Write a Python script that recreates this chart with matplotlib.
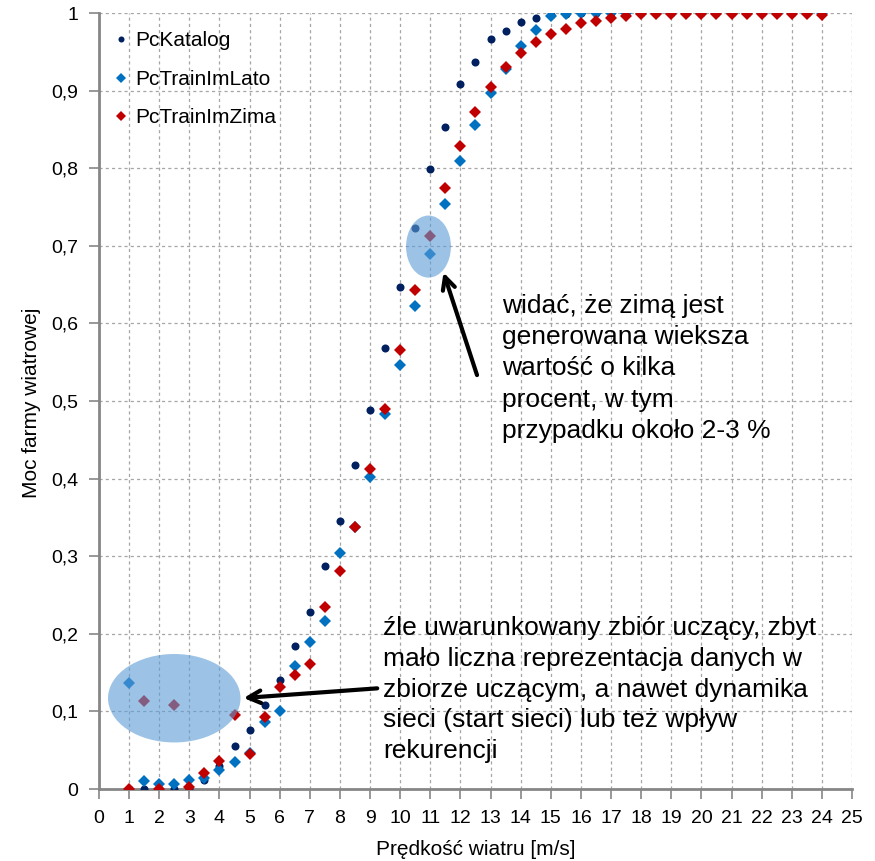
import numpy as np
import matplotlib
matplotlib.use("Agg")
import matplotlib.pyplot as plt
from matplotlib.patches import Ellipse
from matplotlib import font_manager

plt.rcParams['font.family'] = ['Liberation Sans', 'DejaVu Sans']

# wind speed [m/s]
speed = [1, 1.5, 2, 2.5, 3, 3.5, 4, 4.5, 5, 5.5, 6, 6.5, 7, 7.5, 8, 8.5, 9, 9.5,
         10, 10.5, 11, 11.5, 12, 12.5, 13, 13.5, 14, 14.5, 15, 15.5, 16, 16.5,
         17, 17.5, 18, 18.5, 19, 19.5, 20, 20.5, 21, 21.5, 22, 22.5, 23, 23.5, 24]

pc_katalog = [0, 0, 0, 0, 0, 0.012, 0.03, 0.055, 0.076, 0.108, 0.14, 0.184,
              0.228, 0.287, 0.345, 0.417, 0.489, 0.568, 0.647, 0.723, 0.799,
              0.853, 0.908, 0.937, 0.966, 0.977, 0.989, 0.993, 0.997, 0.999,
              1, 1, 1, 1, 1, 1, 1, 1, 1, 1, 1, 1, 1, 1, 1, 1, 1]

pc_lato = [0.137, 0.010, 0.006, 0.007, 0.012, 0.014, 0.024, 0.035, 0.047,
           0.086, 0.100, 0.159, 0.190, 0.217, 0.304, 0.338, 0.402, 0.483,
           0.547, 0.622, 0.690, 0.754, 0.809, 0.856, 0.897, 0.928, 0.957,
           0.978, 0.996, 0.999, 1, 1, 1, 1, 1, 1, 1, 1, 1, 1, 1, 1, 1, 1, 1,
           1, 1]

pc_zima = [0, 0.113, 0, 0.108, 0.002, 0.021, 0.036, 0.096, 0.045, 0.093,
           0.131, 0.147, 0.161, 0.235, 0.281, 0.338, 0.412, 0.490, 0.566,
           0.643, 0.713, 0.775, 0.829, 0.872, 0.904, 0.930, 0.949, 0.963,
           0.973, 0.980, 0.987, 0.990, 0.993, 0.9965, 0.999, 0.999, 0.999,
           0.999, 0.999, 0.999, 0.999, 0.999, 0.999, 0.999, 0.999, 0.999,
           0.998]

x_ticks = list(range(0, 26))
y_ticks = [0, 0.1, 0.2, 0.3, 0.4, 0.5, 0.6, 0.7, 0.8, 0.9, 1.0]
y_ticklabels = ["0", "0,1", "0,2", "0,3", "0,4", "0,5", "0,6", "0,7", "0,8", "0,9", "1"]

available = {f.name for f in font_manager.fontManager.ttflist}
narrow = 'Liberation Sans Narrow' if 'Liberation Sans Narrow' in available else 'Liberation Sans'

fig = plt.figure(figsize=(8.75, 8.61), dpi=100)
ax = fig.add_axes([0.1131, 0.0836, 0.8606, 0.9013])

ax.plot(speed, pc_katalog, 'o', color='#002060', ms=5.8, mew=0, label='PcKatalog', zorder=3)
ax.plot(speed, pc_lato, 'D', color='#0070C0', ms=6.5, mew=0, label='PcTrainImLato', zorder=4)
ax.plot(speed, pc_zima, 'D', color='#C00000', ms=6.5, mew=0, label='PcTrainImZima', zorder=5)

ax.set_xlim(0, 25)
ax.set_ylim(0, 1)
ax.set_xticks(x_ticks)
ax.set_yticks(y_ticks)
ax.set_yticklabels(y_ticklabels)

ax.grid(True, color='#A6A6A6', linestyle=(0, (2.5, 2.5)), linewidth=0.9)
ax.set_axisbelow(True)
for s in ['top', 'right']:
    ax.spines[s].set_visible(False)
for s in ['left', 'bottom']:
    ax.spines[s].set_color('#868686')
    ax.spines[s].set_linewidth(2)
ax.tick_params(axis='both', which='both', direction='out', length=7, width=1.2,
               color='#868686', labelcolor='black')
ax.tick_params(axis='y', labelsize=14, pad=8)
ax.tick_params(axis='x', labelsize=14, pad=8)
for lab in ax.get_xticklabels():
    lab.set_fontfamily([narrow, 'DejaVu Sans'])

ax.set_xlabel('Prędkość wiatru [m/s]', fontsize=15, va='top')
ax.xaxis.set_label_coords(0.5, -0.066)
ax.set_ylabel('Moc farmy wiatrowej', fontsize=15)
ax.yaxis.set_label_coords(-0.077, 0.498)

leg = ax.legend(loc='upper left', frameon=False, fontsize=15, markerscale=0.75,
                handlelength=0.6, handletextpad=0.4, labelspacing=0.93,
                bbox_to_anchor=(0.001, 0.995), borderaxespad=0.3)

# highlight ellipses
ax.add_patch(Ellipse((2.5, 0.117), 4.4, 0.114, facecolor='#5B9BD5', alpha=0.6,
                     edgecolor='none', zorder=6))
ax.add_patch(Ellipse((10.94, 0.699), 1.49, 0.080, facecolor='#5B9BD5', alpha=0.6,
                     edgecolor='none', zorder=6))

# arrows
ax.annotate('', xy=(4.71, 0.117), xytext=(9.33, 0.130),
            arrowprops=dict(arrowstyle='->,head_length=0.9,head_width=0.45',
                            color='black', lw=3), zorder=7)
ax.annotate('', xy=(11.41, 0.669), xytext=(12.58, 0.530),
            arrowprops=dict(arrowstyle='->,head_length=0.9,head_width=0.45',
                            color='black', lw=3), zorder=7)

# va='baseline' anchors the last line's baseline
ax.text(13.38, 0.452, 'widać, że zimą jest\ngenerowana wieksza\nwartość o kilka\nprocent, w tym\nprzypadku około 2-3 %',
        fontsize=19, va='baseline', ha='left', linespacing=1.39, zorder=8)
ax.text(9.43, 0.040, 'źle uwarunkowany zbiór uczący, zbyt\nmało liczna reprezentacja danych w\nzbiorze uczącym, a nawet dynamika\nsieci (start sieci) lub też wpływ\nrekurencji',
        fontsize=19, va='baseline', ha='left', linespacing=1.35, zorder=8)

fig.savefig('out.png', dpi=100)
